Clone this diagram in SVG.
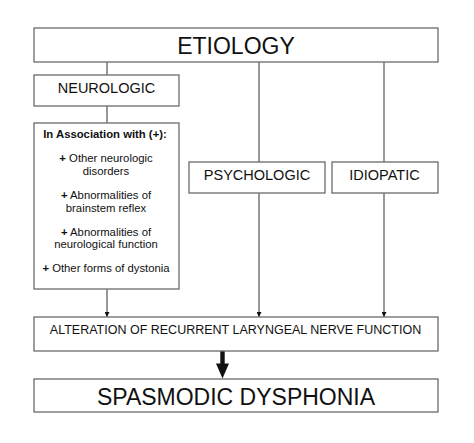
<svg xmlns="http://www.w3.org/2000/svg" width="474" height="443" viewBox="0 0 474 443">
<defs>
<style>
.box{fill:#fff;stroke:#6a6a6a;stroke-width:1.3}
.t{font-family:"Liberation Sans",Arial,sans-serif;fill:#111;text-anchor:middle}
.ln{stroke:#444;stroke-width:1.1;fill:none}
</style>
<marker id="ah" viewBox="0 0 10 10" refX="10" refY="5" markerWidth="5" markerHeight="5" markerUnits="userSpaceOnUse" orient="auto">
<path d="M0,0 L10,5 L0,10 Z" fill="#111"/>
</marker>
</defs>
<rect width="474" height="443" fill="#fff"/>
<g id="connectors">
<line class="ln" x1="107" y1="62" x2="107" y2="75"/>
<line class="ln" x1="107" y1="106" x2="107" y2="123"/>
<line class="ln" x1="107" y1="289" x2="107" y2="317" marker-end="url(#ah)"/>
<line class="ln" x1="259" y1="62" x2="259" y2="162"/>
<line class="ln" x1="259" y1="193" x2="259" y2="317" marker-end="url(#ah)"/>
<line class="ln" x1="384" y1="62" x2="384" y2="162"/>
<line class="ln" x1="384" y1="193" x2="384" y2="317" marker-end="url(#ah)"/>
<path d="M220.3,351 L224.7,351 L224.7,363.5 L229,363.5 L222.5,378.5 L216,363.5 L220.3,363.5 Z" fill="#111"/>
</g>
<g id="etiology">
<rect class="box" x="34" y="28" width="404" height="34"/>
<text class="t" x="236" y="54" font-size="23">ETIOLOGY</text>
</g>
<g id="neurologic">
<rect class="box" x="34" y="75" width="145" height="31"/>
<text class="t" x="106.5" y="92.5" font-size="14.5">NEUROLOGIC</text>
</g>
<g id="association">
<rect class="box" x="34" y="123" width="145" height="166"/>
<text class="t" x="105" y="137.5" font-size="11.3" font-weight="bold">In Association with (+):</text>
<text class="t" x="106" y="162.3" font-size="11.3"><tspan font-weight="bold">+</tspan> Other neurologic</text>
<text class="t" x="106" y="175" font-size="11.3">disorders</text>
<text class="t" x="106" y="199" font-size="11.3"><tspan font-weight="bold">+</tspan> Abnormalities of</text>
<text class="t" x="106" y="211.7" font-size="11.3">brainstem reflex</text>
<text class="t" x="106" y="235.7" font-size="11.3"><tspan font-weight="bold">+</tspan> Abnormalities of</text>
<text class="t" x="106" y="248.3" font-size="11.3">neurological function</text>
<text class="t" x="106" y="272.3" font-size="11.3"><tspan font-weight="bold">+</tspan> Other forms of dystonia</text>
</g>
<g id="psychologic">
<rect class="box" x="189" y="162" width="136" height="31"/>
<text class="t" x="257" y="179.5" font-size="14.5">PSYCHOLOGIC</text>
</g>
<g id="idiopatic">
<rect class="box" x="332" y="162" width="106" height="31"/>
<text class="t" x="384.5" y="179.5" font-size="14.5">IDIOPATIC</text>
</g>
<g id="alteration">
<rect class="box" x="34" y="317" width="404" height="34"/>
<text class="t" x="235.5" y="333.5" font-size="12.5">ALTERATION OF RECURRENT LARYNGEAL NERVE FUNCTION</text>
</g>
<g id="spasmodic">
<rect class="box" x="34" y="379" width="404" height="33"/>
<text class="t" x="236" y="404.5" font-size="23">SPASMODIC DYSPHONIA</text>
</g>
</svg>
